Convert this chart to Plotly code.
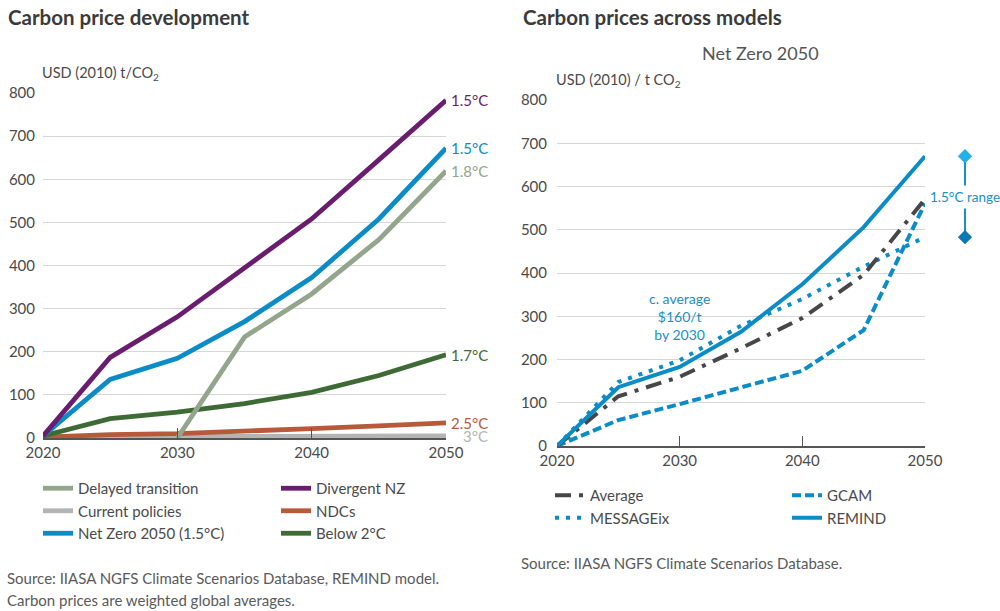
import plotly.graph_objects as go

years = [2020, 2025, 2030, 2035, 2040, 2045, 2050]

# left panel: REMIND carbon prices by scenario
delayed_transition = [None, None, 0, 234, 334, 460, 619]
divergent_nz = [5, 187, 281, 396, 508, 645, 783]
current_policies = [3, 3, 4, 4, 4, 5, 5]
ndcs = [2, 8, 10, 15, 22, 28, 35]
net_zero_2050 = [5, 136, 185, 270, 372, 508, 672]
below_2c = [5, 45, 60, 80, 106, 145, 193]

# right panel: Net Zero 2050 carbon prices by model
average = [0, 115, 160, 226, 296, 396, 571]
gcam = [0, 60, 97, 135, 174, 268, 561]
messageix = [0, 148, 198, 278, 340, 415, 483]
remind = [0, 136, 183, 264, 374, 506, 670]

range_2050 = [670, 483]
avg_2030_note = 160

x_ticks = [2020, 2030, 2040, 2050]

FONT = "Lato"
TXT = "#4a4a4a"

fig = go.Figure()

# (name, values, colour, end label, legend, rank) -- drawn in this order
left_series = [
    ("Current policies", current_policies, "#b4b4b4", "3°C", "legend", 2),
    ("NDCs", ndcs, "#b65a3b", "2.5°C", "legend2", 2),
    ("Below 2°C", below_2c, "#3e6a36", "1.7°C", "legend2", 3),
    ("Delayed transition", delayed_transition, "#93a58c", "1.8°C", "legend", 1),
    ("Net Zero 2050 (1.5°C)", net_zero_2050, "#0b8cc6", "1.5°C", "legend", 3),
    ("Divergent NZ", divergent_nz, "#6a1d6e", "1.5°C", "legend2", 1),
]

for name, vals, col, lab, leg, rank in left_series:
    fig.add_trace(go.Scatter(
        x=years, y=vals, name=name, mode="lines",
        line=dict(color=col, width=4.8),
        legend=leg, legendrank=rank, xaxis="x", yaxis="y",
        connectgaps=False,
    ))
    last = [v for v in vals if v is not None][-1]
    fig.add_annotation(
        x=years[-1], y=last, xref="x", yref="y", text=lab,
        xanchor="right", xshift=44, showarrow=False,
        font=dict(family=FONT, size=15, color=col),
    )

right_series = [
    ("GCAM", gcam, "#0b8cc6", "9px,4px", "legend4", 1),
    ("MESSAGEix", messageix, "#0b8cc6", "4px,7px", "legend3", 2),
    ("Average", average, "#474747", "16px,8px,4px,8px", "legend3", 1),
    ("REMIND", remind, "#0b8cc6", "solid", "legend4", 2),
]

for name, vals, col, dash, leg, rank in right_series:
    fig.add_trace(go.Scatter(
        x=years, y=vals, name=name, mode="lines",
        line=dict(color=col, width=4, dash=dash),
        legend=leg, legendrank=rank, xaxis="x2", yaxis="y2",
    ))

# 1.5°C range marker to the right of the right panel
fig.add_trace(go.Scatter(
    x=[0.5, 0.5], y=range_2050, mode="lines+markers",
    line=dict(color="#1a8fc8", width=2),
    marker=dict(symbol="diamond", size=11, color=["#22b2e8", "#0a78b2"]),
    showlegend=False, xaxis="x3", yaxis="y3", cliponaxis=False,
))
fig.add_annotation(
    x=0.5, y=(range_2050[0] + range_2050[1]) / 2, xref="x3", yref="y3",
    text="1.5°C range", showarrow=False, bgcolor="white", borderpad=3,
    font=dict(family=FONT, size=13.5, color="#1a8fc8"),
)

fig.add_annotation(
    x=2030, y=300, xref="x2", yref="y2",
    text="c. average<br>$%d/t<br>by 2030" % avg_2030_note,
    showarrow=False, align="center",
    font=dict(family=FONT, size=14, color="#1a8fc8"),
)

xax = dict(
    range=[2020, 2050], tickvals=x_ticks, ticks="inside", ticklen=10,
    tickcolor="#555555", tickwidth=1.2, showline=True, linecolor="#555555",
    linewidth=1.5, showgrid=False, zeroline=False, automargin=False,
    tickfont=dict(family=FONT, size=15, color=TXT),
)
yax = dict(
    range=[0, 800], dtick=100, showgrid=True, gridcolor="#d6d6d6",
    gridwidth=1, zeroline=False, ticks="", showline=False, automargin=False,
    tickfont=dict(family=FONT, size=15, color=TXT),
)

leg_style = dict(
    orientation="v", xanchor="left", yanchor="top", bgcolor="rgba(0,0,0,0)",
    font=dict(family=FONT, size=15, color=TXT), itemwidth=30,
    tracegroupgap=0, traceorder="normal",
)

fig.update_layout(
    template="none",
    width=1000, height=611,
    margin=dict(l=0, r=0, t=0, b=0, autoexpand=False),
    paper_bgcolor="white", plot_bgcolor="white",
    font=dict(family=FONT, size=14, color=TXT),
    xaxis=dict(xax, domain=[0.043, 0.446], anchor="y"),
    yaxis=dict(yax, domain=[0.2831, 0.8478], anchor="x", ticklabelstandoff=7),
    xaxis2=dict(xax, domain=[0.557, 0.925], anchor="y2"),
    yaxis2=dict(yax, domain=[0.2700, 0.8363], anchor="x2", ticklabelstandoff=9),
    xaxis3=dict(domain=[0.93, 1.0], range=[0, 1], visible=False, anchor="y3"),
    yaxis3=dict(domain=[0.2700, 0.8363], range=[0, 800], visible=False, anchor="x3"),
    legend=dict(leg_style, x=0.038, y=1 - 472 / 611),
    legend2=dict(leg_style, x=0.276, y=1 - 472 / 611),
    legend3=dict(leg_style, x=0.550, y=1 - 479 / 611),
    legend4=dict(leg_style, x=0.787, y=1 - 479 / 611),
    showlegend=True,
)

def text(x, y, s, size=14, color=TXT, bold=False, anchor="left"):
    fig.add_annotation(
        x=x / 1000, y=1 - y / 611, xref="paper", yref="paper",
        text="<b>%s</b>" % s if bold else s, showarrow=False,
        xanchor=anchor, yanchor="middle", align=anchor,
        font=dict(family=FONT, size=size, color=color),
    )

text(6, 17, "Carbon price development", size=20.5, color="#3b3b3b", bold=True)
text(521, 17, "Carbon prices across models", size=20.5, color="#3b3b3b", bold=True)
text(760, 53, "Net Zero 2050", size=18, color="#555555", anchor="center")
text(40, 73, "USD (2010) t/CO<sub>2</sub>", size=14.5)
text(554, 81, "USD (2010) / t CO<sub>2</sub>", size=14.5)
text(5, 578, "Source: IIASA NGFS Climate Scenarios Database, REMIND model.", size=15, color="#5a5a5a")
text(5, 600, "Carbon prices are weighted global averages.", size=15, color="#5a5a5a")
text(519, 563, "Source: IIASA NGFS Climate Scenarios Database.", size=15, color="#5a5a5a")

# page body has a default 8px margin; drop it so the figure fills the window
fig.write_html(
    "out.html",
    config={"displayModeBar": False},
    post_script="document.body.style.margin = '0';",
)
